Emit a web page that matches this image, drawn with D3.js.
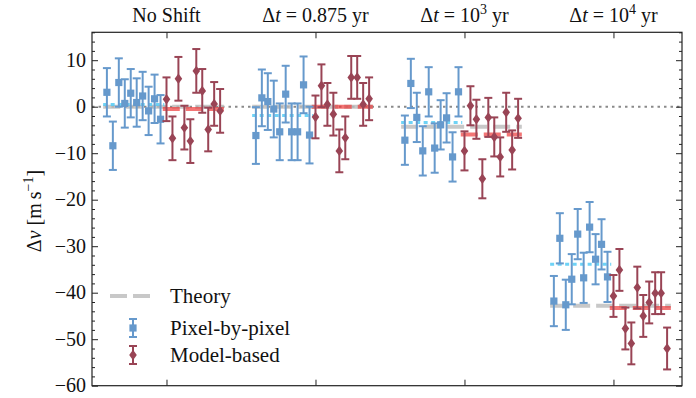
<!DOCTYPE html>
<html>
<head>
<meta charset="utf-8">
<script src="https://cdn.jsdelivr.net/npm/d3@7"></script>
<style>
  body { margin: 0; background: #fff; }
</style>
</head>
<body>
<div id="chart"></div>
<script>
// group titles (rendered with math parts below)
var groups = ["No Shift", "Δt = 0.875 yr", "Δt = 10^3 yr", "Δt = 10^4 yr"];

// pixel-by-pixel estimates, 10 per group [m/s]
var pixelValues = [
  [3.1, -8.4, 5.2, 0.7, 2.9, 0.9, 2.3, -0.9, 1.7, -2.7],
  [-6.2, 1.9, 1.1, -0.5, -5.4, 2.7, -5.4, -5.4, 4.7, -6.1],
  [-7.2, 5.0, -2.3, -9.5, 3.2, -8.9, -3.9, -2.4, -10.8, 3.2],
  [-41.8, -28.3, -42.6, -37.1, -27.4, -36.8, -25.9, -32.8, -29.6, -36.6]
];
var pixelErr = [5.2, 6.1, 5.3, 5.4];

// model-based estimates
var modelValues = [
  [1.6, -6.8, 6.0, -4.5, -7.4, 7.7, 3.4, -4.9, 0.6, -0.9],
  [-2.2, 4.5, 0.5, -1.6, -9.5, -6.7, 6.3, 6.3, 0.5, 1.7],
  [-9.5, 0.2, -2.7, -15.5, -2.3, -6.5, -10.8, -1.2, -9.3, -2.5],
  [-40.7, -35.1, -47.7, -50.9, -38.9, -45.0, -42.1, -40.1, -40.1, -52.0]
];
var modelErr = [4.7, 4.6, 4.2, 4.5];

// horizontal reference levels per group
var theory = [0, 0, -4.3, -42.8];
var pixelMean = [0.5, -1.9, -3.4, -33.9];
var modelMean = [-0.5, 0.0, -6.0, -43.3];

var yTicks = [10, 0, -10, -20, -30, -40, -50, -60];

var W = 696, H = 398;
var m = {l: 92, r: 14, t: 32.3, b: 12.3};
var serif = "'Liberation Serif', 'DejaVu Serif', 'Times New Roman', Times, serif";

var blue = "#6699cc", red = "#994455";

var svg = d3.select("#chart").append("svg").attr("width", W).attr("height", H)
  .attr("font-family", serif);

var x = d3.scaleLinear().domain([-0.5, 3.46]).range([m.l, W - m.r]);
var y = d3.scaleLinear().domain([-60, 16]).range([H - m.b, m.t]);

var step = 0.04;
function offs(start){ return d3.range(10).map(function(i){ return start + i*step; }); }
var pixOff = offs(-0.4), modOff = offs(0);

// zero line
svg.append("line")
  .attr("x1", x(-0.5)).attr("x2", x(3.46))
  .attr("y1", y(0)).attr("y2", y(0))
  .attr("stroke", "#8a8a8a").attr("stroke-width", 2)
  .attr("stroke-dasharray", "2.5,4");

var ext = 0.025;
groups.forEach(function(g, gi){
  // theory
  svg.append("line")
    .attr("x1", x(gi - 0.4 - ext)).attr("x2", x(gi + 0.36 + ext))
    .attr("y1", y(theory[gi])).attr("y2", y(theory[gi]))
    .attr("stroke", "#bbbbbb").attr("stroke-width", 4).attr("opacity", 0.8)
    .attr("stroke-dasharray", "17,6");
  // pixel mean
  svg.append("line")
    .attr("x1", x(gi - 0.4 - ext)).attr("x2", x(gi - 0.04 + ext))
    .attr("y1", y(pixelMean[gi])).attr("y2", y(pixelMean[gi]))
    .attr("stroke", "#55ccf5").attr("stroke-width", 3).attr("opacity", 0.85)
    .attr("stroke-dasharray", "4,3.5");
  // model mean
  svg.append("line")
    .attr("x1", x(gi - ext)).attr("x2", x(gi + 0.36 + ext))
    .attr("y1", y(modelMean[gi])).attr("y2", y(modelMean[gi]))
    .attr("stroke", "#ee3b3b").attr("stroke-width", 4).attr("opacity", 0.7)
    .attr("stroke-dasharray", "17,6");
});

function errorbars(vals, errs, off, color, shape){
  groups.forEach(function(g, gi){
    var pts = vals[gi].map(function(v, i){ return {x: gi + off[i], v: v, e: errs[gi]}; });
    var gg = svg.append("g").attr("stroke", color).attr("stroke-width", 2);
    gg.selectAll(".bar").data(pts).enter().append("line")
      .attr("x1", function(d){ return x(d.x); }).attr("x2", function(d){ return x(d.x); })
      .attr("y1", function(d){ return y(d.v - d.e); }).attr("y2", function(d){ return y(d.v + d.e); });
    [-1, 1].forEach(function(s){
      gg.selectAll(".cap" + s).data(pts).enter().append("line")
        .attr("x1", function(d){ return x(d.x) - 4; }).attr("x2", function(d){ return x(d.x) + 4; })
        .attr("y1", function(d){ return y(d.v + s*d.e); }).attr("y2", function(d){ return y(d.v + s*d.e); });
    });
    var mk = svg.append("g").attr("fill", color);
    if (shape == "square") {
      mk.selectAll("rect").data(pts).enter().append("rect")
        .attr("x", function(d){ return x(d.x) - 3.6; }).attr("y", function(d){ return y(d.v) - 3.6; })
        .attr("width", 7.2).attr("height", 7.2);
    } else {
      mk.selectAll("path").data(pts).enter().append("path")
        .attr("d", function(d){ var cx = x(d.x), cy = y(d.v);
          return "M" + cx + "," + (cy - 5.2) + "L" + (cx + 3.8) + "," + cy + "L" + cx + "," + (cy + 5.2) + "L" + (cx - 3.8) + "," + cy + "Z"; });
    }
  });
}
errorbars(pixelValues, pixelErr, pixOff, blue, "square");
errorbars(modelValues, modelErr, modOff, red, "diamond");

// frame
svg.append("rect").attr("x", m.l).attr("y", m.t)
  .attr("width", W - m.r - m.l).attr("height", H - m.b - m.t)
  .attr("fill", "none").attr("stroke", "#222").attr("stroke-width", 1.2);

// y ticks (inward, both sides)
var minor = d3.range(-60, 16.1, 2).filter(function(v){ return v % 10 != 0; });
var axL = svg.append("g").attr("transform", "translate(" + m.l + ",0)")
  .call(d3.axisRight(y).tickValues(yTicks).tickSize(6).tickFormat(""));
var axLm = svg.append("g").attr("transform", "translate(" + m.l + ",0)")
  .call(d3.axisRight(y).tickValues(minor).tickSize(3).tickFormat(""));
var axR = svg.append("g").attr("transform", "translate(" + (W - m.r) + ",0)")
  .call(d3.axisLeft(y).tickValues(yTicks).tickSize(6).tickFormat(""));
var axRm = svg.append("g").attr("transform", "translate(" + (W - m.r) + ",0)")
  .call(d3.axisLeft(y).tickValues(minor).tickSize(3).tickFormat(""));
var axB = svg.append("g").attr("transform", "translate(0," + (H - m.b) + ")")
  .call(d3.axisTop(x).tickValues([0, 1, 2, 3]).tickSize(6).tickFormat(""));
var axT = svg.append("g").attr("transform", "translate(0," + m.t + ")")
  .call(d3.axisBottom(x).tickValues([0, 1, 2, 3]).tickSize(6).tickFormat(""));
[axL, axLm, axR, axRm, axB, axT].forEach(function(a){
  a.select(".domain").remove();
  a.selectAll("line").attr("stroke", "#222").attr("stroke-width", 1);
});

function txt(sel){ return sel.append("text").style("font-family", serif).attr("fill", "#111"); }

// y tick labels
yTicks.forEach(function(d){
  txt(svg).attr("x", 86).attr("y", y(d)).attr("dy", "0.33em")
    .attr("text-anchor", "end").style("font-size", "20px")
    .text(d < 0 ? "\u2212" + Math.abs(d) : d);
});

// y label
var yl = txt(svg).attr("transform", "translate(41," + 211 + ") rotate(-90)")
  .attr("text-anchor", "middle").style("font-size", "20px");
yl.append("tspan").text("\u0394");
yl.append("tspan").style("font-style", "italic").text("v");
yl.append("tspan").text(" [m\u2009s");
yl.append("tspan").attr("dy", -8).style("font-size", "14px").text("\u22121");
yl.append("tspan").attr("dy", 8).text("]");

// group titles
groups.forEach(function(g, gi){
  var t = txt(svg).attr("x", x(gi)).attr("y", 22)
    .attr("text-anchor", "middle").style("font-size", "20px");
  if (gi == 0) { t.text(g); return; }
  var rest = g.slice(2);
  t.append("tspan").text("\u0394");
  t.append("tspan").style("font-style", "italic").text("t");
  var parts = rest.split("^");
  if (parts.length == 1) { t.append("tspan").text(rest); return; }
  t.append("tspan").text(parts[0]);
  t.append("tspan").attr("dy", -8).style("font-size", "14px").text(parts[1].split(" ")[0]);
  t.append("tspan").attr("dy", 8).text(" " + parts[1].split(" ").slice(1).join(" "));
});

// legend
var lg = svg.append("g");
lg.append("line").attr("x1", 110).attr("x2", 152).attr("y1", 296).attr("y2", 296)
  .attr("stroke", "#bbbbbb").attr("stroke-width", 4).attr("opacity", 0.8)
  .attr("stroke-dasharray", "17,6");
[{y: 328, c: blue, s: "square", lab: "Pixel-by-pixel"}, {y: 355, c: red, s: "diamond", lab: "Model-based"}]
  .forEach(function(d){
    var cx = 133;
    lg.append("line").attr("x1", cx).attr("x2", cx).attr("y1", d.y - 9).attr("y2", d.y + 9)
      .attr("stroke", d.c).attr("stroke-width", 2);
    [-9, 9].forEach(function(o){
      lg.append("line").attr("x1", cx - 4).attr("x2", cx + 4).attr("y1", d.y + o).attr("y2", d.y + o)
        .attr("stroke", d.c).attr("stroke-width", 2);
    });
    if (d.s == "square") lg.append("rect").attr("x", cx - 3.6).attr("y", d.y - 3.6).attr("width", 7.2).attr("height", 7.2).attr("fill", d.c);
    else lg.append("path").attr("d", "M" + cx + "," + (d.y - 5.2) + "L" + (cx + 3.8) + "," + d.y + "L" + cx + "," + (d.y + 5.2) + "L" + (cx - 3.8) + "," + d.y + "Z").attr("fill", d.c);
    txt(lg).attr("x", 170).attr("y", d.y).attr("dy", "0.33em").style("font-size", "21px").text(d.lab);
  });
txt(lg).attr("x", 170).attr("y", 296).attr("dy", "0.33em").style("font-size", "21px").text("Theory");
</script>
</body>
</html>
